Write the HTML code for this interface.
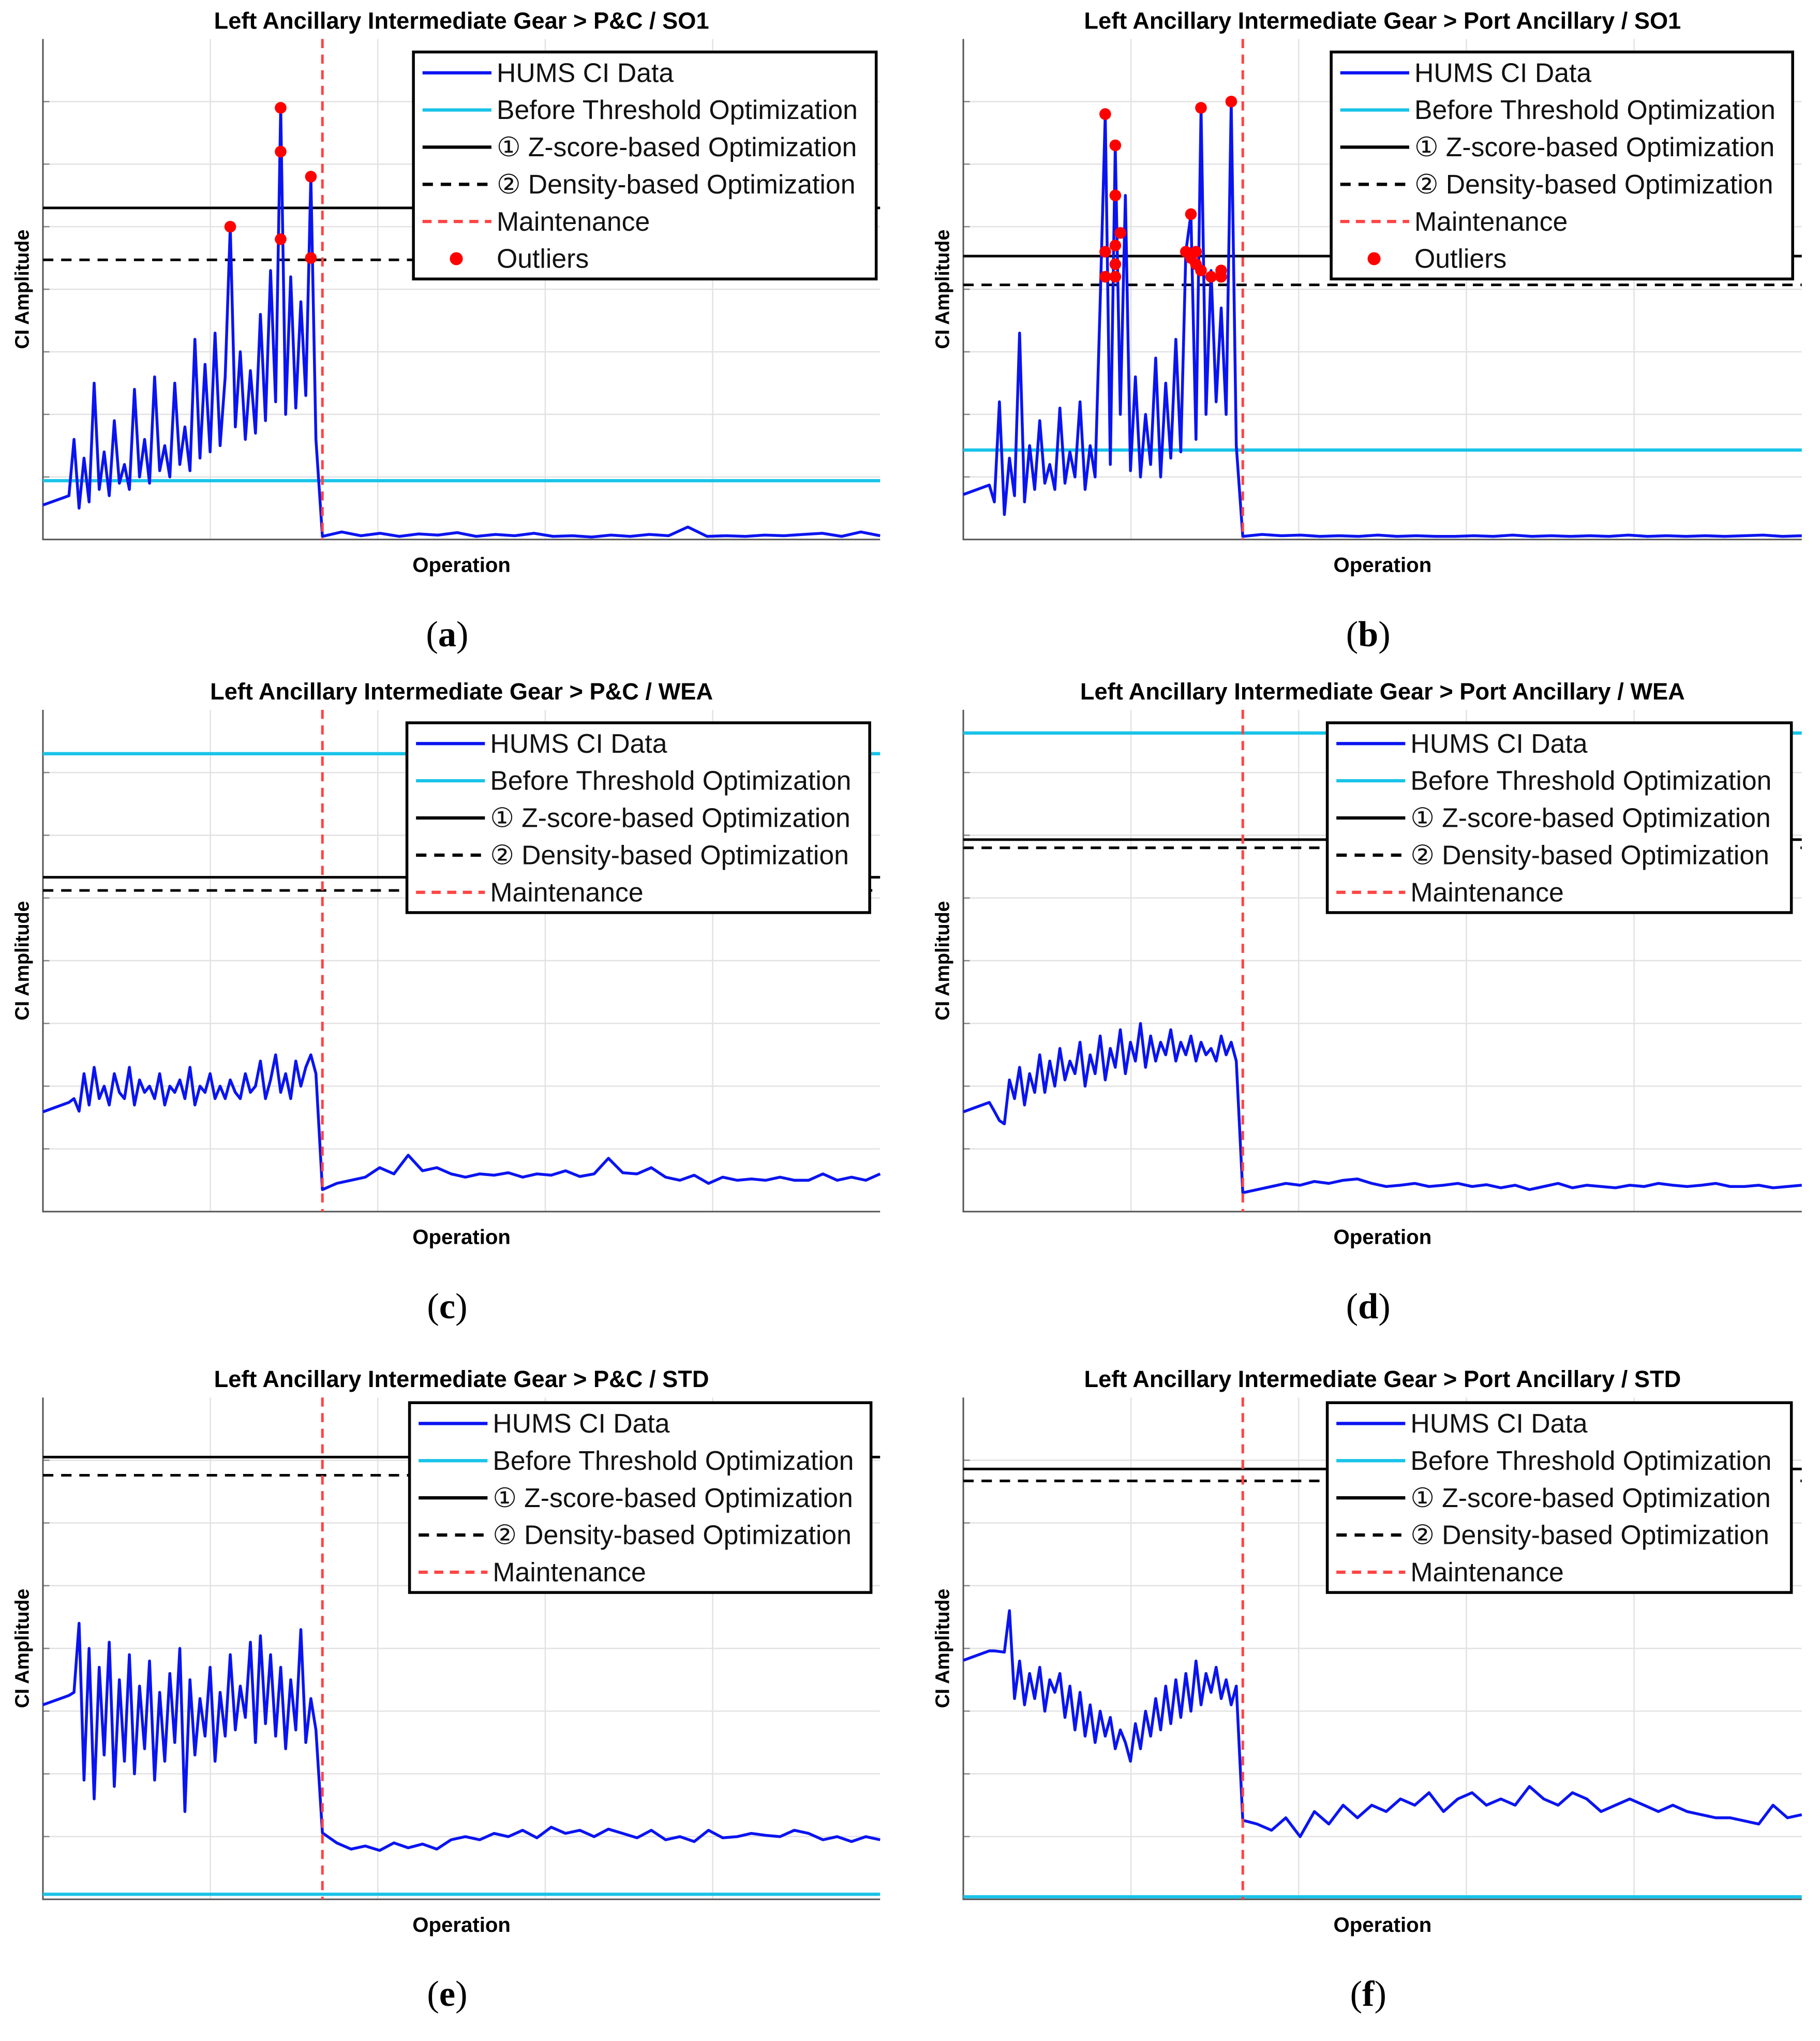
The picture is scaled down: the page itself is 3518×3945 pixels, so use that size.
<!DOCTYPE html>
<html><head><meta charset="utf-8"><style>
html,body{margin:0;padding:0;background:#fff;}
svg{display:block;}
</style></head>
<body>
<svg id="fig" width="3518" height="3945" viewBox="0 0 1400 1570" xmlns="http://www.w3.org/2000/svg" font-family="Liberation Sans, Arial, sans-serif"></svg>
<script>
// ---- data (values in grid units, 0..8 from axis bottom to top) ----
const preA=[0.7,1.6,0.5,1.3,0.6,2.5,0.8,1.4,0.7,1.9,0.9,1.2,0.8,2.4,1.0,1.6,0.9,2.6,1.1,1.5,1.0,2.5,1.2,1.8,1.1,3.2,1.3,2.8,1.4,3.3,1.5,2.6,5.0,1.8,3.0,1.6,2.7,1.7,3.6,1.9,4.3,2.2,6.9,2.0,4.2,2.1,3.8,2.3,5.8,1.6];
const postA=[0.05,0.12,0.06,0.1,0.05,0.09,0.07,0.11,0.05,0.08,0.06,0.1,0.05,0.06,0.04,0.07,0.05,0.08,0.06,0.2,0.05,0.06,0.05,0.07,0.06,0.08,0.1,0.05,0.12,0.06];
const outA=[[32,5.0],[42,6.9],[42,6.2],[42,4.8],[48,5.8],[48,4.5]];
const preB=[0.87,0.6,2.2,0.4,1.3,0.7,3.3,0.6,1.5,0.8,1.9,0.9,1.2,0.8,2.1,0.9,1.4,1.0,2.2,0.8,1.5,1.0,3.8,6.8,1.2,6.3,2.0,5.5,1.1,2.6,1.0,2.0,1.2,2.9,1.0,2.5,1.3,3.2,1.4,4.6,5.2,1.6,6.9,2.0,4.3,2.2,3.7,2.0,7.0,1.5];
const postB=[0.05,0.08,0.06,0.07,0.05,0.06,0.05,0.07,0.05,0.06,0.05,0.05,0.06,0.05,0.07,0.05,0.06,0.05,0.06,0.05,0.07,0.05,0.06,0.05,0.06,0.05,0.06,0.07,0.05,0.06];
const outB=[[23,6.8],[23,4.6],[23,4.2],[25,6.3],[25,5.5],[25,4.7],[25,4.4],[25,4.2],[26,4.9],[39,4.6],[40,5.2],[40,4.5],[41,4.4],[41,4.6],[42,6.9],[42,4.3],[44,4.2],[46,4.2],[46,4.3],[48,7.0]];
const preC=[1.74,1.8,1.6,2.2,1.7,2.3,1.8,2.0,1.7,2.2,1.9,1.8,2.3,1.7,2.1,1.9,2.0,1.8,2.2,1.7,2.0,1.9,2.1,1.8,2.3,1.7,2.0,1.9,2.2,1.8,2.0,1.8,2.1,1.9,1.8,2.2,1.9,2.0,2.4,1.8,2.1,2.5,1.9,2.2,1.8,2.4,2.0,2.3,2.5,2.2];
const postC=[0.35,0.45,0.5,0.55,0.7,0.6,0.9,0.65,0.7,0.6,0.55,0.6,0.58,0.62,0.55,0.6,0.58,0.65,0.56,0.6,0.85,0.62,0.6,0.7,0.55,0.5,0.58,0.45,0.55,0.5,0.52,0.5,0.55,0.5,0.5,0.6,0.5,0.55,0.5,0.6];
const preD=[1.74,1.6,1.45,1.4,2.1,1.8,2.3,1.7,2.2,1.9,2.5,1.9,2.4,2.0,2.6,2.1,2.4,2.2,2.7,2.0,2.5,2.2,2.8,2.1,2.6,2.3,2.9,2.2,2.7,2.4,3.0,2.3,2.8,2.4,2.7,2.5,2.9,2.4,2.7,2.5,2.8,2.4,2.7,2.5,2.6,2.4,2.8,2.5,2.7,2.4];
const postD=[0.3,0.35,0.4,0.45,0.42,0.48,0.45,0.5,0.52,0.45,0.4,0.42,0.45,0.4,0.42,0.45,0.4,0.43,0.38,0.42,0.35,0.4,0.45,0.38,0.42,0.4,0.38,0.42,0.4,0.45,0.42,0.4,0.42,0.45,0.4,0.4,0.42,0.38,0.4,0.42];
const preE=[3.25,3.3,4.4,1.9,4.0,1.6,3.7,2.3,4.1,1.8,3.5,2.2,3.9,2.0,3.4,2.4,3.8,1.9,3.3,2.2,3.6,2.5,4.0,1.4,3.5,2.3,3.2,2.6,3.7,2.2,3.3,2.6,3.9,2.7,3.4,2.9,4.1,2.5,4.2,2.8,3.9,2.6,3.7,2.4,3.5,2.7,4.3,2.5,3.2,2.7];
const postE=[1.06,0.9,0.8,0.85,0.78,0.9,0.82,0.88,0.8,0.95,1.0,0.95,1.05,1.0,1.1,0.98,1.15,1.05,1.1,1.0,1.12,1.05,0.98,1.1,0.95,1.0,0.92,1.1,0.98,1.0,1.05,1.02,1.0,1.1,1.05,0.95,1.0,0.92,1.0,0.95];
const preF=[3.96,3.96,3.95,3.94,4.6,3.2,3.8,3.1,3.6,3.2,3.7,3.0,3.5,3.3,3.6,2.9,3.4,2.7,3.3,2.6,3.1,2.5,3.0,2.6,2.9,2.4,2.7,2.5,2.2,2.8,2.4,3.0,2.6,3.2,2.7,3.4,2.8,3.5,2.9,3.6,3.0,3.8,3.1,3.6,3.3,3.7,3.2,3.5,3.1,3.4];
const postF=[1.26,1.2,1.1,1.3,1.0,1.4,1.2,1.5,1.3,1.5,1.4,1.6,1.5,1.7,1.4,1.6,1.7,1.5,1.6,1.5,1.8,1.6,1.5,1.7,1.6,1.4,1.5,1.6,1.5,1.4,1.5,1.4,1.35,1.3,1.3,1.25,1.2,1.5,1.3,1.35];
// thresholds [before(cyan), zscore, density]
const thrA=[0.94,5.3,4.47], thrB=[1.43,4.53,4.07], thrC=[7.3,5.33,5.12], thrD=[7.63,5.93,5.8], thrE=[0.08,7.05,6.76], thrF=[0.04,6.86,6.67];
const titles=["Left Ancillary Intermediate Gear > P&C / SO1","Left Ancillary Intermediate Gear > Port Ancillary / SO1","Left Ancillary Intermediate Gear > P&C / WEA","Left Ancillary Intermediate Gear > Port Ancillary / WEA","Left Ancillary Intermediate Gear > P&C / STD","Left Ancillary Intermediate Gear > Port Ancillary / STD"];
const letters=["a","b","c","d","e","f"];

const NS="http://www.w3.org/2000/svg";
const svg=document.getElementById('fig');
function mk(tag,attrs,parent,txt){const e=document.createElementNS(NS,tag);for(const k in attrs)e.setAttribute(k,attrs[k]);if(txt!==undefined)e.textContent=txt;(parent||svg).appendChild(e);return e;}

const panels=[
 {x0:33,x1:677,y0:30,y1:415,m:248,pre:preA,post:postA,out:outA,thr:thrA,leg:[318,40,674]},
 {x0:741,x1:1386,y0:30,y1:415,m:956,pre:preB,post:postB,out:outB,thr:thrB,leg:[1024,40,1379]},
 {x0:33,x1:677,y0:546,y1:932,m:248,pre:preC,post:postC,out:null,thr:thrC,leg:[313,556,669]},
 {x0:741,x1:1386,y0:546,y1:932,m:956,pre:preD,post:postD,out:null,thr:thrD,leg:[1021,556,1378]},
 {x0:33,x1:677,y0:1075,y1:1461,m:248,pre:preE,post:postE,out:null,thr:thrE,leg:[315,1079,670]},
 {x0:741,x1:1386,y0:1075,y1:1461,m:956,pre:preF,post:postF,out:null,thr:thrF,leg:[1021,1079,1378]}
];
const BLUE="#0a14f0",CYAN="#19c3e8",RED="#ff4444";
panels.forEach((p,i)=>{
 const g=mk('g',{},svg);
 
 
 const yS=v=>p.y1-v*(p.y1-p.y0)/8;
 const startX=p.x0+20;
 const xPre=k=>startX+k*(p.m-5-startX)/(p.pre.length-1);
 const xPost=k=>p.m+k*(p.x1-p.m)/(p.post.length-1);
 const grid=mk('g',{stroke:"#e2e2e2","stroke-width":1},g);
 
 
 for(let k=1;k<8;k++){mk('line',{x1:p.x0,x2:p.x1,y1:yS(k),y2:yS(k)},grid);mk('line',{x1:p.x0,x2:p.x0+5,y1:yS(k),y2:yS(k),stroke:"#888"},grid);}
 for(let k=1;k<5;k++){const x=p.x0+k*(p.x1-p.x0)/5;mk('line',{x1:x,x2:x,y1:p.y0,y2:p.y1},grid);}
 const ax=mk('path',{d:`M${p.x0},${p.y0}V${p.y1}H${p.x1}`,fill:"none",stroke:"#555","stroke-width":1.2},g);
 
 
 const c=mk('line',{x1:p.x0,x2:p.x1,y1:yS(p.thr[0]),y2:yS(p.thr[0]),stroke:CYAN,"stroke-width":2.5},g);
 
 
 const z=mk('line',{x1:p.x0,x2:p.x1,y1:yS(p.thr[1]),y2:yS(p.thr[1]),stroke:"#000","stroke-width":2},g);
 
 
 const d=mk('line',{x1:p.x0,x2:p.x1,y1:yS(p.thr[2]),y2:yS(p.thr[2]),stroke:"#000","stroke-width":2,"stroke-dasharray":"8,6"},g);
 
 
 let pts=[[p.x0,yS(p.pre[0]-0.15)]];
 p.pre.forEach((v,k)=>pts.push([xPre(k),yS(v)]));
 p.post.forEach((v,k)=>pts.push([xPost(k),yS(v)]));
 const s=mk('polyline',{points:pts.map(q=>q[0].toFixed(1)+','+q[1].toFixed(1)).join(' '),fill:"none",stroke:BLUE,"stroke-width":2.2,"stroke-linejoin":"round"},g);
 
 
 if(p.out){p.out.forEach(o=>{const dt=mk('circle',{cx:xPre(o[0]),cy:yS(o[1]),r:4.5,fill:"#f00"},g);
  
  });}
 const mline=mk('line',{x1:p.m,x2:p.m,y1:p.y0,y2:p.y1,stroke:RED,"stroke-width":2,"stroke-dasharray":"7,5"},g);
 
 
 const [lx,ly,lr]=p.leg;const rows=p.out?6:5;const lh=rows*28.6+3;
 const lg=mk('g',{},g);
 
 
 mk('rect',{x:lx,y:ly,width:lr-lx,height:lh,fill:"#fff",stroke:"#000","stroke-width":2.2},lg);
 const items=[["HUMS CI Data",BLUE,""],["Before Threshold Optimization",CYAN,""],["\u2460 Z-score-based Optimization","#000",""],["\u2461 Density-based Optimization","#000","8,6"],["Maintenance",RED,"7,5"]];
 if(p.out)items.push(["Outliers",null,""]);
 items.forEach((it,k)=>{const yy=ly+16+k*28.6;
  const e=mk('g',{},lg);
  
  
  if(it[1])mk('line',{x1:lx+7,x2:lx+60,y1:yy,y2:yy,stroke:it[1],"stroke-width":2.5,"stroke-dasharray":it[2]||"none"},e);
  else mk('circle',{cx:lx+33,cy:yy,r:5,fill:"#f00"},e);
  mk('text',{x:lx+64,y:yy+7,"font-size":20.6,fill:"#111"},e,it[0]);});
 const t=mk('text',{x:(p.x0+p.x1)/2,y:p.y0-8,"font-size":18,"font-weight":"bold","text-anchor":"middle"},g,titles[i]);
 
 
 const xl=mk('text',{x:(p.x0+p.x1)/2,y:p.y1+25,"font-size":16,"font-weight":"bold","text-anchor":"middle"},g,"Operation");
 
 
 const yc=(p.y0+p.y1)/2;
 const yl=mk('text',{x:p.x0-11,y:yc,"font-size":15,"font-weight":"bold","text-anchor":"middle",transform:`rotate(-90 ${p.x0-11} ${yc})`},g,"CI Amplitude");
 
 
 const pl=mk('text',{x:(p.x0+p.x1)/2-11,y:p.y1+82,"font-size":28,"font-family":"Liberation Serif, serif","text-anchor":"middle"},g);
 
 
 mk('tspan',{},pl,"(");mk('tspan',{"font-weight":"bold"},pl,letters[i]);mk('tspan',{},pl,")");
});
</script>
</body></html>
